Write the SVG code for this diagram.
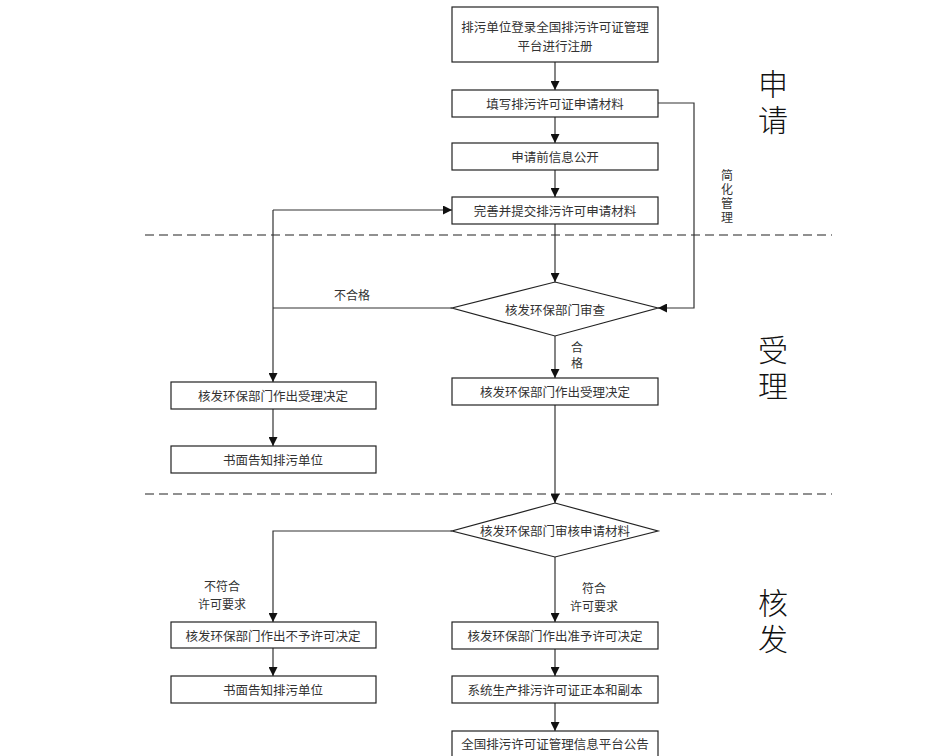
<svg xmlns="http://www.w3.org/2000/svg" width="936" height="756" viewBox="0 0 936 756">
<defs>
<marker id="ah" viewBox="0 0 10 10" refX="10" refY="5" markerWidth="9" markerHeight="9" markerUnits="userSpaceOnUse" orient="auto">
<path d="M0,0 L10,5 L0,10 z" fill="#111"/>
</marker>
<style>
.box{fill:#fff;stroke:#222;stroke-width:1.2}
.t{font-family:"Noto Sans CJK SC","Noto Sans",sans-serif;font-size:12.5px;fill:#333;text-anchor:middle;dominant-baseline:central}
.lbl{font-family:"Noto Sans CJK SC","Noto Sans",sans-serif;font-size:12px;fill:#333;text-anchor:middle;dominant-baseline:central}
.v{writing-mode:vertical-rl}
.big{font-family:"Noto Sans CJK SC","Noto Sans",sans-serif;font-size:30px;font-weight:300;fill:#111;text-anchor:middle;dominant-baseline:central;writing-mode:vertical-rl;letter-spacing:6px}
.c{fill:none;stroke:#333;stroke-width:1.2}
.a{marker-end:url(#ah)}
.dash{stroke:#222;stroke-width:1.2;stroke-dasharray:9 5}
</style>
</defs>
<rect width="936" height="756" fill="#fff"/>
<g id="dividers">
<line class="dash" x1="145" y1="235" x2="832" y2="235"/>
<line class="dash" x1="145" y1="494" x2="832" y2="494"/>
</g>
<g id="sections">
<text class="big" x="773" y="105">申请</text>
<text class="big" x="773" y="371">受理</text>
<text class="big" x="773" y="624">核发</text>
</g>
<g id="connectors">
<line class="c a" x1="555" y1="62" x2="555" y2="90"/>
<line class="c a" x1="555" y1="117" x2="555" y2="143"/>
<line class="c a" x1="555" y1="170" x2="555" y2="197"/>
<line class="c a" x1="555" y1="224" x2="555" y2="282"/>
<polyline class="c a" points="658,103 694,103 694,308 658,308"/>
<line class="c" x1="452" y1="308" x2="273" y2="308"/>
<line class="c a" x1="273" y1="210" x2="452" y2="210"/>
<line class="c a" x1="273" y1="210" x2="273" y2="382"/>
<line class="c a" x1="555" y1="336" x2="555" y2="378"/>
<line class="c a" x1="273" y1="409" x2="273" y2="446"/>
<line class="c a" x1="555" y1="405" x2="555" y2="503"/>
<polyline class="c a" points="452,531 273,531 273,622"/>
<line class="c a" x1="555" y1="557" x2="555" y2="622"/>
<line class="c a" x1="273" y1="648" x2="273" y2="676"/>
<line class="c a" x1="555" y1="649" x2="555" y2="676"/>
<line class="c a" x1="555" y1="703" x2="555" y2="731"/>
<text class="lbl v" x="727" y="197" style="letter-spacing:2px" fill="#444">简化管理</text>
<text class="lbl" x="352" y="294">不合格</text>
<text class="lbl v" x="577" y="357" style="letter-spacing:4px">合格</text>
<text class="lbl" x="222" y="585">不符合<tspan x="222" dy="17.5">许可要求</tspan></text>
<text class="lbl" x="594" y="587">符合<tspan x="594" dy="17.5">许可要求</tspan></text>
</g>
<g id="n1"><rect class="box" x="452" y="7" width="206" height="55"/>
<text class="t" x="555" y="26">排污单位登录全国排污许可证管理<tspan x="555" dy="19">平台进行注册</tspan></text></g>
<g id="n2"><rect class="box" x="452" y="90" width="206" height="27"/><text class="t" x="555" y="103.5">填写排污许可证申请材料</text></g>
<g id="n3"><rect class="box" x="452" y="143" width="206" height="27"/><text class="t" x="555" y="156.5">申请前信息公开</text></g>
<g id="n4"><rect class="box" x="452" y="197" width="206" height="27"/><text class="t" x="555" y="210.5">完善并提交排污许可申请材料</text></g>
<g id="d1"><polygon class="box" points="555,282 658,308 555,336 452,308"/><text class="t" x="555" y="309">核发环保部门审查</text></g>
<g id="n5"><rect class="box" x="171" y="382" width="205" height="27"/><text class="t" x="273" y="395.5">核发环保部门作出受理决定</text></g>
<g id="n6"><rect class="box" x="452" y="378" width="206" height="27"/><text class="t" x="555" y="391.5">核发环保部门作出受理决定</text></g>
<g id="n7"><rect class="box" x="171" y="446" width="205" height="27"/><text class="t" x="273" y="459.5">书面告知排污单位</text></g>
<g id="d2"><polygon class="box" points="555,503 658,531 555,557 452,531"/><text class="t" x="555" y="530">核发环保部门审核申请材料</text></g>
<g id="n8"><rect class="box" x="171" y="622" width="205" height="26"/><text class="t" x="273" y="635">核发环保部门作出不予许可决定</text></g>
<g id="n9"><rect class="box" x="171" y="676" width="205" height="27"/><text class="t" x="273" y="689.5">书面告知排污单位</text></g>
<g id="n10"><rect class="box" x="452" y="622" width="206" height="27"/><text class="t" x="555" y="635.5">核发环保部门作出准予许可决定</text></g>
<g id="n11"><rect class="box" x="452" y="676" width="206" height="27"/><text class="t" x="555" y="689.5">系统生产排污许可证正本和副本</text></g>
<g id="n12"><rect class="box" x="452" y="731" width="206" height="30"/><text class="t" x="555" y="743">全国排污许可证管理信息平台公告</text></g>
</svg>
